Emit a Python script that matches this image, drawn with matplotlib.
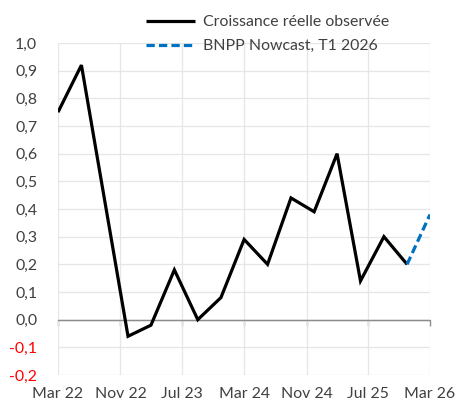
import datetime as dt
import matplotlib
matplotlib.use("Agg")
import matplotlib.pyplot as plt
import matplotlib.dates as mdates
from matplotlib.ticker import FixedLocator, FuncFormatter

plt.rcParams['font.family'] = ['Lato', 'DejaVu Sans']

# Observed real growth (q/q, %)
obs_dates = ["2022-03", "2022-06", "2022-12", "2023-03", "2023-06", "2023-09",
             "2023-12", "2024-03", "2024-06", "2024-09", "2024-12", "2025-03",
             "2025-06", "2025-09", "2025-12"]
obs_values = [0.75, 0.92, -0.06, -0.02, 0.18, 0.0, 0.08, 0.29, 0.20, 0.44,
              0.39, 0.60, 0.14, 0.30, 0.20]
# Nowcast
fc_dates = ["2025-12", "2026-03"]
fc_values = [0.20, 0.38]

tick_dates = ["2022-03", "2022-11", "2023-07", "2024-03", "2024-11", "2025-07", "2026-03"]
tick_labels = ["Mar 22", "Nov 22", "Jul 23", "Mar 24", "Nov 24", "Jul 25", "Mar 26"]
y_ticks = [-0.2, -0.1, 0.0, 0.1, 0.2, 0.3, 0.4, 0.5, 0.6, 0.7, 0.8, 0.9, 1.0]

label_obs = "Croissance réelle observée"
label_fc = "BNPP Nowcast, T1 2026"


def to_date(s):
    y, m = s.split("-")
    return dt.date(int(y), int(m), 1)


W, H = 458, 401
FS = 11.4
fig = plt.figure(figsize=(W / 100, H / 100), dpi=100)
ax = fig.add_axes([58 / W, 1 - 375 / H, (430 - 58) / W, (375 - 43) / H])

xo = [mdates.date2num(to_date(d)) for d in obs_dates]
xf = [mdates.date2num(to_date(d)) for d in fc_dates]
xt = [mdates.date2num(to_date(d)) for d in tick_dates]

l1, = ax.plot(xo, obs_values, color="black", lw=2.3, solid_joinstyle="miter",
              solid_capstyle="butt", zorder=3)
l2, = ax.plot(xf, fc_values, color="#0070C0", lw=2.3, dashes=(2.6, 1.3),
              zorder=3)

ax.set_xlim(xt[0], xt[-1])
ax.set_ylim(-0.2, 1.0)
ax.yaxis.set_major_locator(FixedLocator(y_ticks))
ax.yaxis.set_major_formatter(FuncFormatter(lambda v, p: f"{v:.1f}".replace(".", ",").replace("-0,0", "0,0")))
ax.set_xticks(xt)
ax.set_xticklabels(tick_labels)

ax.grid(True, color="#e6e6e6", lw=0.9, zorder=0)
for s in ax.spines.values():
    s.set_visible(False)
ax.tick_params(axis="both", length=0, colors="#404040", labelsize=FS)
ax.tick_params(axis="y", pad=15)
ax.tick_params(axis="x", pad=9)
for lab in ax.get_yticklabels():
    try:
        if float(lab.get_text().replace(",", ".")) < 0:
            lab.set_color("#FF0000")
    except ValueError:
        pass

# zero axis with tick marks
ax.axhline(0, color="#8c8c8c", lw=1.0, zorder=2)
sec = ax.secondary_xaxis(0.2 / 1.2)
sec.set_xticks(xt)
sec.set_xticklabels([])
sec.tick_params(axis="x", direction="out", length=4, width=1.0, color="#8c8c8c")
sec.spines["bottom"].set_color("#8c8c8c")
for k in ["top", "left", "right"]:
    sec.spines[k].set_visible(False)

fig.legend([l1, l2], [label_obs, label_fc], loc="upper left",
           bbox_to_anchor=(140 / W, 1 - 9 / H), frameon=False, fontsize=FS,
           handlelength=3.1, handletextpad=0.45, labelspacing=0.62,
           labelcolor="#404040", borderaxespad=0)

fig.savefig("out.png", dpi=100)
